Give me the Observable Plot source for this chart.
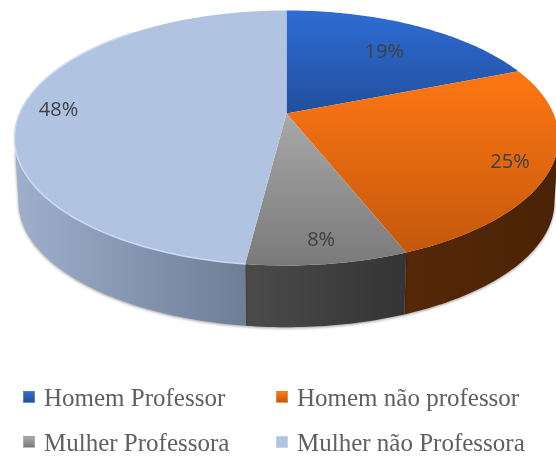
<!DOCTYPE html>
<html><head><meta charset="utf-8">
<script src="https://cdn.jsdelivr.net/npm/d3@7"></script>
<script src="https://cdn.jsdelivr.net/npm/@observablehq/plot@0.6"></script>
<style>
html,body{margin:0;padding:0;background:#fff;width:556px;height:458px;overflow:hidden}
#chart svg{display:block;filter:blur(.35px)}
.wall{filter:drop-shadow(0 1px 1.5px rgba(0,0,0,.4))}
#legend{position:relative;height:88px;font-family:"Liberation Serif",serif;font-size:25px;color:#606060;filter:blur(.35px)}
.item{position:absolute;white-space:nowrap;line-height:30px;height:30px}
.sw{position:absolute;left:0;top:8px;width:12px;height:12px;box-sizing:border-box;border:1px solid rgba(255,255,255,.25)}
.tx{position:absolute;left:21px;top:0}
</style></head><body>
<div id="chart"></div><div id="legend"></div>
<script>
const categories = ["Homem Professor","Homem não professor","Mulher Professora","Mulher não Professora"];
const values = [19,25,8,48];
const labelAt = [10,32,48,75.6];
const labelRadius = [.69,.86,.865,.86];
const topStops = [["#2f6cd4","#214f9e"],["#ff7713","#c4580c"],["#a8a8a8","#7a7a7a"],["#b0c4e2","#b0c4e2"]];
const wallStops = [["#24508f","#24508f"],["#55290a","#4a2205"],["#4b4b4b","#343434"],["#9fb0cc","#6f7d96"]];
const legendCols = [23,276];
const legendRows = [383,428];

const W=556,H=370;
// perspective projection of the tilted disc
const cx=286,cy=113,Rx=267,Ry=122.8,k=.192,drop=64,shrink=.985;
const proj=(deg,r=1,low=false)=>{
  const a=deg*Math.PI/180,u=r*Math.sin(a),v=r*Math.cos(a),d=1+k*v;
  const s=low?shrink:1;
  return {x:cx+Rx*u/d*s,y:cy-Ry*v/d*s+(low?drop:0)};
};
const total=d3.sum(values);
const cum=d3.cumsum(values);
const edges=[0,...cum].map(c=>c/total*360);
const limbR=180-Math.acos(k)*180/Math.PI+0, visA=Math.acos(-k)*180/Math.PI, visB=360-visA;
const arc=(a,b)=>{const n=Math.max(2,Math.ceil(Math.abs(b-a)));return d3.range(n+1).map(i=>a+(b-a)*i/n);};
const tops=values.map((_,i)=>[{x:cx,y:cy},...arc(edges[i],edges[i+1]).map(d=>proj(d))]);
const walls=values.map((_,i)=>{
  const a=Math.max(edges[i],visA),b=Math.min(edges[i+1],visB);
  if(b<=a) return null;
  const g=arc(a,b);
  return [...g.map(d=>proj(d)),...g.slice().reverse().map(d=>proj(d,1,true))];
});
const labels=values.map((v,i)=>({...proj(labelAt[i]/100*360,labelRadius[i]),t:v+"%"}));

const defs=()=>{
  const s=d3.create("svg:defs");
  const grad=(id,st,horiz)=>{
    const g=s.append("linearGradient").attr("id",id).attr("x1",0).attr("y1",0).attr("x2",horiz?1:0).attr("y2",horiz?0:1);
    g.append("stop").attr("offset",0).attr("stop-color",st[0]);
    g.append("stop").attr("offset",1).attr("stop-color",st[1]);
  };
  topStops.forEach((st,i)=>grad("t"+i,st,false));
  wallStops.forEach((st,i)=>grad("w"+i,st,true));
  return s.node();
};
const poly=(pts,fill,extra={})=>Plot.line(pts,{x:"x",y:"y",fill,stroke:"none",curve:"linear-closed",...extra});

const plot=Plot.plot({
  width:W,height:H,margin:0,
  x:{axis:null,domain:[0,W],range:[0,W]},
  y:{axis:null,domain:[0,H],range:[0,H]},
  style:{background:"transparent",overflow:"hidden"},
  marks:[
    defs,
    ...walls.map((p,i)=>p?poly(p,`url(#w${i})`,{className:"wall"}):null).filter(Boolean),
    ...tops.map((p,i)=>poly(p,`url(#t${i})`)),
    Plot.line(arc(edges[3],visB+60).map(d=>proj(d)),{x:"x",y:"y",stroke:"#c8dbf8",strokeWidth:1.5}),
    Plot.text(labels,{x:"x",y:"y",text:"t",fill:"#404040",fontSize:20,fontFamily:"'Open Sans',sans-serif",textAnchor:"middle"})
  ]
});
document.getElementById("chart").append(plot);

const lg=d3.select("#legend");
categories.forEach((c,i)=>{
  const it=lg.append("div").attr("class","item")
    .style("left",legendCols[i%2]+"px").style("top",(legendRows[i>>1]-383+ (i>>1?0:0)+(i>>1)*0+ (legendRows[i>>1]-H) - (legendRows[i>>1]-383))+"px");
  it.append("div").attr("class","sw").style("background",`linear-gradient(${topStops[i][0]},${wallStops[i][0]===wallStops[i][1]?wallStops[i][0]:topStops[i][1]})`);
  it.append("div").attr("class","tx").text(c);
});
</script></body></html>
